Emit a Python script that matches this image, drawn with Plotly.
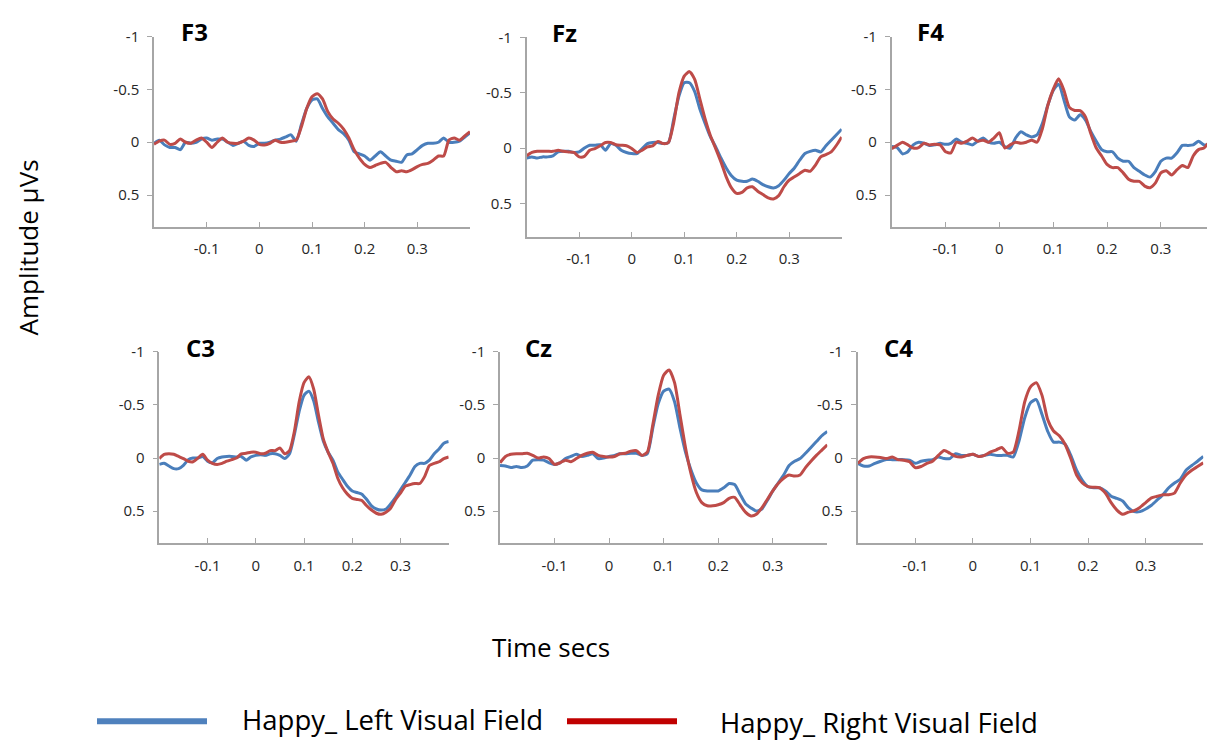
import plotly.graph_objects as go

# Time base (seconds), 10 ms steps from -0.2 to 0.4
time_s = [round(-0.2 + 0.01 * i, 2) for i in range(61)]

# Grand-average ERP amplitudes (µV) per electrode
f3_left = [0.01, -0.02, 0.025, 0.05, 0.05, 0.07, 0.0, 0.01, 0.0, -0.03, -0.04, -0.02, -0.03, -0.03, 0.0, 0.03, 0.01, -0.01, 0.03, 0.04,
           0.01, 0.01, 0.0, -0.02, -0.03, -0.05, -0.07, -0.01, -0.17, -0.32, -0.40, -0.41, -0.32, -0.24, -0.18, -0.12, -0.08, -0.02, 0.09, 0.11,
           0.13, 0.17, 0.13, 0.09, 0.13, 0.17, 0.18, 0.19, 0.12, 0.11, 0.07, 0.03, 0.01, 0.01, 0.0, -0.04, 0.0, 0.0, -0.01, -0.05, -0.09]
f3_right = [0.02, -0.01, -0.02, 0.02, 0.01, -0.03, 0.0, 0.01, -0.02, -0.04, 0.0, 0.05, 0.0, -0.04, 0.0, 0.01, 0.01, -0.01, -0.04, -0.02,
            0.02, 0.025, 0.01, -0.02, 0.0, 0.0, -0.01, -0.02, -0.15, -0.32, -0.43, -0.46, -0.41, -0.29, -0.22, -0.18, -0.125, -0.04, 0.07, 0.15,
            0.21, 0.24, 0.22, 0.20, 0.19, 0.24, 0.28, 0.27, 0.28, 0.26, 0.23, 0.21, 0.20, 0.17, 0.13, 0.13, -0.02, -0.04, -0.02, -0.06, -0.10]

fz_left = [0.09, 0.08, 0.09, 0.08, 0.08, 0.07, 0.035, 0.03, 0.03, 0.04, 0.035, 0.0, -0.025, -0.025, -0.03, 0.02, -0.04, -0.025, 0.02, 0.04,
           0.05, 0.05, 0.005, -0.04, -0.05, -0.05, -0.04, -0.05, -0.26, -0.47, -0.59, -0.59, -0.51, -0.35, -0.22, -0.10, -0.01, 0.09, 0.18, 0.25,
           0.29, 0.30, 0.30, 0.28, 0.30, 0.33, 0.35, 0.36, 0.34, 0.29, 0.23, 0.18, 0.11, 0.05, 0.03, 0.02, 0.035, -0.02, -0.07, -0.12, -0.17]
fz_right = [0.07, 0.04, 0.03, 0.03, 0.03, 0.03, 0.02, 0.03, 0.035, 0.04, 0.08, 0.075, 0.02, 0.005, -0.02, -0.05, -0.05, -0.03, -0.025, -0.02,
            0.005, 0.04, 0.02, -0.01, -0.02, -0.06, -0.04, -0.05, -0.23, -0.50, -0.65, -0.69, -0.62, -0.44, -0.26, -0.11, 0.005, 0.125, 0.26, 0.36,
            0.41, 0.40, 0.36, 0.35, 0.39, 0.42, 0.45, 0.46, 0.43, 0.35, 0.29, 0.26, 0.23, 0.20, 0.21, 0.155, 0.08, 0.06, 0.035, -0.025, -0.10]

f4_left = [0.04, 0.05, 0.11, 0.09, 0.025, 0.0, 0.01, 0.03, 0.025, 0.01, 0.02, 0.01, -0.03, 0.0, 0.01, 0.025, -0.01, -0.04, 0.0, 0.01,
           0.0, 0.04, 0.055, -0.04, -0.10, -0.07, -0.05, -0.07, -0.18, -0.35, -0.49, -0.55, -0.40, -0.24, -0.21, -0.26, -0.21, -0.10, -0.01, 0.07,
           0.09, 0.09, 0.15, 0.18, 0.18, 0.24, 0.275, 0.31, 0.33, 0.275, 0.18, 0.15, 0.15, 0.10, 0.03, 0.03, 0.025, -0.01, 0.025, 0.02, 0.0]
f4_right = [0.06, 0.03, 0.0, 0.025, 0.055, 0.05, 0.01, 0.025, 0.02, 0.025, 0.09, 0.10, 0.0, 0.01, -0.01, -0.04, -0.01, -0.02, 0.0, -0.04,
            -0.09, 0.055, 0.025, 0.0, 0.01, 0.0, -0.02, 0.0, -0.13, -0.35, -0.50, -0.60, -0.49, -0.33, -0.30, -0.30, -0.24, -0.08, 0.055, 0.13,
            0.21, 0.24, 0.24, 0.29, 0.35, 0.37, 0.37, 0.415, 0.43, 0.385, 0.29, 0.27, 0.31, 0.26, 0.22, 0.24, 0.13, 0.07, 0.055, 0.0, -0.02]

c3_left = [0.06, 0.05, 0.075, 0.10, 0.10, 0.07, 0.015, 0.0, 0.0, -0.015, 0.03, 0.045, 0.005, -0.01, -0.015, -0.015, -0.01, -0.015, 0.02, -0.01,
           -0.025, -0.03, -0.025, -0.04, -0.04, -0.025, 0.005, -0.04, -0.22, -0.44, -0.59, -0.63, -0.54, -0.34, -0.16, -0.055, 0.02, 0.13, 0.20, 0.265,
           0.31, 0.325, 0.34, 0.39, 0.45, 0.48, 0.49, 0.48, 0.43, 0.37, 0.30, 0.23, 0.16, 0.08, 0.05, 0.05, 0.02, -0.04, -0.085, -0.14, -0.155]
c3_right = [0.005, -0.035, -0.04, -0.035, -0.015, 0.005, 0.03, 0.035, 0.0, -0.035, 0.02, 0.05, 0.06, 0.05, 0.03, 0.015, 0.0, -0.04, -0.045, -0.055,
            -0.055, -0.04, -0.045, -0.07, -0.07, -0.095, -0.04, -0.07, -0.25, -0.53, -0.71, -0.765, -0.65, -0.405, -0.18, -0.055, 0.05, 0.19, 0.28, 0.34,
            0.38, 0.39, 0.40, 0.45, 0.49, 0.52, 0.53, 0.51, 0.47, 0.39, 0.33, 0.265, 0.25, 0.24, 0.24, 0.175, 0.07, 0.05, 0.035, 0.005, -0.01]

cz_left = [0.07, 0.075, 0.09, 0.08, 0.09, 0.075, 0.02, 0.015, 0.02, 0.045, 0.06, 0.045, 0.005, -0.015, -0.035, -0.015, -0.025, -0.04, 0.005, 0.0,
           -0.015, -0.025, -0.04, -0.04, -0.045, -0.045, -0.025, -0.04, -0.28, -0.51, -0.63, -0.65, -0.53, -0.28, -0.055, 0.11, 0.235, 0.30, 0.31, 0.31,
           0.31, 0.28, 0.24, 0.25, 0.34, 0.43, 0.47, 0.50, 0.48, 0.40, 0.31, 0.235, 0.16, 0.07, 0.03, 0.005, -0.045, -0.10, -0.155, -0.21, -0.25]
cz_right = [0.045, -0.015, -0.035, -0.04, -0.04, -0.045, -0.025, 0.0, -0.01, 0.005, 0.06, 0.045, 0.02, 0.035, 0.005, -0.025, -0.045, -0.055, -0.025, -0.015,
            -0.01, -0.015, -0.04, -0.045, -0.065, -0.07, -0.025, -0.055, -0.31, -0.59, -0.78, -0.83, -0.71, -0.405, -0.10, 0.145, 0.325, 0.42, 0.45, 0.45,
            0.44, 0.42, 0.38, 0.37, 0.44, 0.51, 0.545, 0.53, 0.47, 0.39, 0.31, 0.24, 0.19, 0.16, 0.17, 0.16, 0.09, 0.03, -0.025, -0.075, -0.125]

c4_left = [0.05, 0.075, 0.075, 0.05, 0.03, 0.015, 0.015, 0.015, 0.015, 0.02, 0.05, 0.03, 0.02, 0.015, -0.01, 0.005, 0.005, -0.04, -0.025, -0.025,
           -0.035, -0.015, -0.025, -0.035, -0.025, -0.025, -0.025, -0.01, -0.16, -0.38, -0.52, -0.55, -0.41, -0.25, -0.15, -0.15, -0.13, -0.025, 0.115, 0.21,
           0.27, 0.28, 0.28, 0.31, 0.36, 0.38, 0.405, 0.47, 0.505, 0.505, 0.48, 0.445, 0.395, 0.345, 0.28, 0.235, 0.20, 0.115, 0.07, 0.03, -0.015]
c4_right = [0.05, 0.005, -0.01, -0.01, -0.005, 0.005, -0.01, 0.015, 0.02, 0.035, 0.09, 0.08, 0.05, 0.03, -0.025, -0.07, -0.045, -0.015, -0.01, -0.025,
            -0.035, -0.015, -0.025, -0.055, -0.075, -0.10, -0.045, -0.055, -0.255, -0.53, -0.67, -0.71, -0.59, -0.36, -0.255, -0.21, -0.13, 0.005, 0.16, 0.235,
            0.27, 0.275, 0.28, 0.33, 0.42, 0.49, 0.53, 0.51, 0.495, 0.465, 0.42, 0.375, 0.36, 0.345, 0.345, 0.33, 0.235, 0.16, 0.115, 0.08, 0.045]

electrodes = ["F3", "Fz", "F4", "C3", "Cz", "C4"]
left_series = [f3_left, fz_left, f4_left, c3_left, cz_left, c4_left]
right_series = [f3_right, fz_right, f4_right, c3_right, cz_right, c4_right]

x_tick_vals = [-0.2, -0.1, 0, 0.1, 0.2, 0.3, 0.4]
x_tick_text = ["", "-0.1", "0", "0.1", "0.2", "0.3", ""]
y_tick_vals = [-1, -0.5, 0, 0.5]
y_tick_text = ["-1", "-0.5", "0", "0.5"]

legend_names = ["Happy_ Left Visual Field", "Happy_ Right Visual Field"]

LEFT_COLOR = "#4A7EBB"
RIGHT_COLOR = "#BE4B48"
AXIS_GREY = "#A6A6A6"
FONT = "Open Sans"

W, H = 1207, 740

# Panel boxes in pixels: (left, right, top, bottom) plus x-range end
panels = [
    (154.0, 470.0, 26.0, 219.0, 0.4),
    (526.7, 841.7, 26.7, 229.0, 0.4),
    (891.7, 1207.0, 26.0, 219.0, 0.3857),
    (159.3, 448.7, 346.0, 540.0, 0.4),
    (500.0, 827.3, 346.0, 540.0, 0.4),
    (857.7, 1203.3, 346.0, 540.0, 0.4),
]

fig = go.Figure()
layout = {}
annotations = []

for i, (name, left, right, box) in enumerate(zip(electrodes, left_series, right_series, panels)):
    k = "" if i == 0 else str(i + 1)
    x0, x1, y0, y1, xmax = box
    fig.add_trace(go.Scatter(x=time_s, y=left, mode="lines", xaxis="x" + k, yaxis="y" + k,
                             name=legend_names[0],
                             line=dict(color=LEFT_COLOR, width=3, shape="spline", smoothing=0.6),
                             showlegend=False, hoverinfo="skip"))
    fig.add_trace(go.Scatter(x=time_s, y=right, mode="lines", xaxis="x" + k, yaxis="y" + k,
                             name=legend_names[1],
                             line=dict(color=RIGHT_COLOR, width=3, shape="spline", smoothing=0.6),
                             showlegend=False, hoverinfo="skip"))
    layout["xaxis" + k] = dict(
        domain=[x0 / W, x1 / W], anchor="y" + k, range=[-0.2, xmax],
        tickvals=x_tick_vals, ticktext=x_tick_text, ticks="inside", ticklen=5,
        tickcolor=AXIS_GREY, showline=True, linecolor=AXIS_GREY, linewidth=1.5,
        showgrid=False, zeroline=False, ticklabelstandoff=8,
        tickfont=dict(family=FONT, size=15, color="#262626"),
    )
    layout["yaxis" + k] = dict(
        domain=[1 - y1 / H, 1 - y0 / H], anchor="x" + k, range=[0.8, -1],
        tickvals=y_tick_vals, ticktext=y_tick_text, ticks="outside", ticklen=5,
        tickcolor=AXIS_GREY, showline=True, linecolor=AXIS_GREY, linewidth=1.5,
        showgrid=False, zeroline=False, ticklabelstandoff=5,
        tickfont=dict(family=FONT, size=15, color="#262626"),
    )

# Electrode labels
label_pos = [(194, 21), (564, 22), (930, 21), (200, 342), (538, 342), (898, 342)]
for name, (px, py) in zip(electrodes, label_pos):
    annotations.append(dict(text="<b>" + name + "</b>", x=px / W, y=1 - py / H, xref="paper", yref="paper",
                            showarrow=False, xanchor="center", yanchor="middle",
                            font=dict(family=FONT, size=24, color="black")))

# Shared axis titles
annotations.append(dict(text="Amplitude µVs", x=28 / W, y=1 - 240 / H, xref="paper", yref="paper",
                        showarrow=False, textangle=-90, xanchor="center", yanchor="middle",
                        font=dict(family=FONT, size=26, color="black")))
annotations.append(dict(text="Time secs", x=551 / W, y=1 - 646 / H, xref="paper", yref="paper",
                        showarrow=False, xanchor="center", yanchor="middle",
                        font=dict(family=FONT, size=26, color="black")))

# Legend drawn as line samples with labels
shapes = [
    dict(type="line", xref="paper", yref="paper", x0=97 / W, x1=207 / W, y0=1 - 721 / H, y1=1 - 721 / H,
         line=dict(color="#4F81BD", width=6)),
    dict(type="line", xref="paper", yref="paper", x0=567 / W, x1=677 / W, y0=1 - 721 / H, y1=1 - 721 / H,
         line=dict(color="#C00000", width=6)),
]
annotations.append(dict(text=legend_names[0], x=240 / W, y=1 - 719 / H, xref="paper", yref="paper",
                        showarrow=False, xanchor="left", yanchor="middle",
                        font=dict(family=FONT, size=27.5, color="black")))
annotations.append(dict(text=legend_names[1], x=718 / W, y=1 - 722 / H, xref="paper", yref="paper",
                        showarrow=False, xanchor="left", yanchor="middle",
                        font=dict(family=FONT, size=27.5, color="black")))

fig.update_layout(
    width=W, height=H, margin=dict(l=0, r=0, t=0, b=0),
    paper_bgcolor="white", plot_bgcolor="white",
    annotations=annotations, shapes=shapes, showlegend=False,
    **layout,
)

fig.write_html("out.html")
